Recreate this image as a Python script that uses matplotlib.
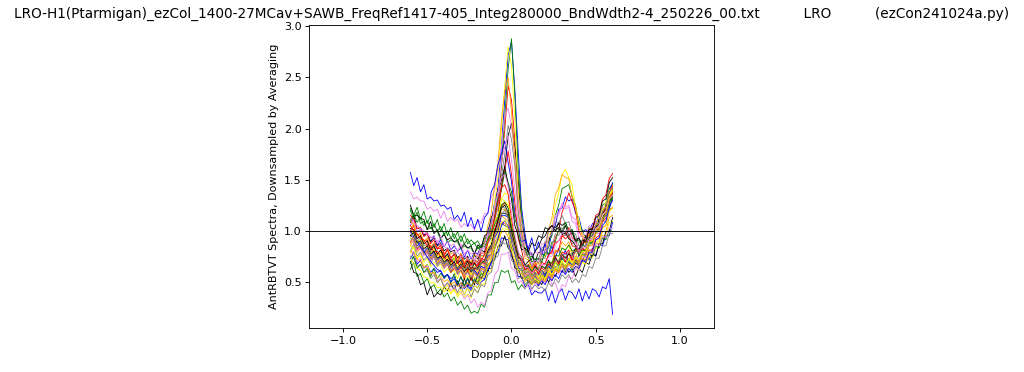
import matplotlib
matplotlib.use("Agg")
import matplotlib.pyplot as plt

# ------------------------------------------------------------
# data : Doppler axis (MHz) and the downsampled spectra
# ------------------------------------------------------------

doppler = [
    -0.60, -0.58, -0.56, -0.54, -0.52, -0.50, -0.48, -0.46, -0.44, -0.42, -0.40,
    -0.38, -0.36, -0.34, -0.32, -0.30, -0.28, -0.26, -0.24, -0.22, -0.20,
    -0.18, -0.16, -0.14, -0.12,
    -0.10, -0.08, -0.06, -0.04, -0.02, 0.00, 0.02, 0.04, 0.06, 0.08, 0.10,
    0.12, 0.14, 0.16, 0.18, 0.20, 0.22, 0.24, 0.26, 0.28,
    0.30, 0.32, 0.34, 0.36, 0.38, 0.40,
    0.42, 0.44, 0.46, 0.48, 0.50, 0.52, 0.54, 0.56, 0.58, 0.60,
]

spec01 = [1.05, 1.12, 0.99, 1.01, 0.96, 0.97, 0.89, 0.95, 0.86, 0.91, 0.84,
          0.90, 0.81, 0.85, 0.80, 0.83, 0.74, 0.81, 0.72, 0.79, 0.77,
          0.86, 0.88, 1.01, 1.08,
          1.28, 1.42, 1.83, 2.28, 2.72, 2.85, 2.38, 1.77, 1.22, 0.97, 0.79,
          0.78, 0.69, 0.73, 0.71, 0.81, 0.83, 0.98, 1.05, 1.21,
          1.22, 1.33, 1.29, 1.31, 1.17, 1.13,
          0.99, 1.01, 0.97, 1.07, 1.05, 1.16, 1.14, 1.26, 1.24, 1.38]
spec02 = [0.98, 1.05, 0.92, 0.95, 0.90, 0.91, 0.83, 0.87, 0.82, 0.83, 0.75,
          0.82, 0.73, 0.77, 0.74, 0.75, 0.67, 0.74, 0.66, 0.72, 0.69,
          0.78, 0.78, 0.91, 0.96,
          1.15, 1.28, 1.63, 1.98, 2.42, 2.28, 1.88, 1.33, 1.02, 0.80, 0.74,
          0.63, 0.70, 0.61, 0.69, 0.67, 0.77, 0.78, 0.93, 1.00,
          1.18, 1.26, 1.37, 1.28, 1.20, 0.99,
          0.94, 0.87, 0.97, 0.98, 1.09, 1.08, 1.21, 1.23, 1.38, 1.43]
spec03 = [1.20, 1.11, 1.18, 1.07, 1.09, 1.01, 1.03, 0.99, 0.99, 0.91, 0.98,
          0.88, 0.91, 0.89, 0.89, 0.82, 0.85, 0.83, 0.83, 0.77, 0.84,
          0.81, 0.89, 0.91, 1.04,
          1.13, 1.37, 1.63, 2.12, 2.58, 2.88, 2.32, 1.60, 1.17, 0.88, 0.80,
          0.69, 0.72, 0.68, 0.77, 0.75, 0.89, 0.95, 1.15, 1.25,
          1.41, 1.43, 1.45, 1.33, 1.25, 1.05,
          1.01, 0.92, 1.03, 1.01, 1.13, 1.12, 1.25, 1.27, 1.41, 1.46]
spec04 = [1.08, 1.15, 1.02, 1.03, 0.95, 0.98, 0.89, 0.93, 0.85, 0.88, 0.80,
          0.83, 0.79, 0.81, 0.73, 0.77, 0.72, 0.75, 0.67, 0.76, 0.72,
          0.81, 0.79, 0.91, 0.93,
          1.08, 1.15, 1.43, 1.62, 1.93, 2.05, 1.82, 1.48, 1.07, 0.93, 0.77,
          0.77, 0.69, 0.79, 0.77, 0.89, 0.89, 1.01, 0.99, 1.08,
          1.05, 1.08, 0.99, 1.01, 0.91, 0.93,
          0.85, 0.95, 0.93, 1.03, 1.02, 1.13, 1.13, 1.25, 1.27, 1.41]
spec05 = [0.92, 0.99, 0.87, 0.91, 0.82, 0.85, 0.77, 0.85, 0.75, 0.79, 0.71,
          0.75, 0.67, 0.75, 0.65, 0.69, 0.62, 0.70, 0.61, 0.69, 0.65,
          0.75, 0.75, 0.91, 0.99,
          1.28, 1.52, 1.98, 2.42, 2.80, 2.62, 2.08, 1.37, 1.03, 0.77, 0.73,
          0.61, 0.65, 0.62, 0.73, 0.75, 0.93, 1.02, 1.25, 1.37,
          1.55, 1.60, 1.52, 1.45, 1.22, 1.11,
          0.93, 0.95, 0.92, 1.03, 1.03, 1.15, 1.17, 1.29, 1.31, 1.45]
spec06 = [1.38, 1.31, 1.33, 1.29, 1.29, 1.21, 1.23, 1.19, 1.21, 1.12, 1.19,
          1.09, 1.13, 1.09, 1.11, 1.03, 1.07, 1.04, 1.06, 1.00, 1.11,
          1.07, 1.17, 1.17, 1.33,
          1.39, 1.63, 1.82, 2.13, 2.20, 2.02, 1.73, 1.27, 1.08, 0.87, 0.85,
          0.75, 0.79, 0.77, 0.87, 0.87, 1.01, 1.02, 1.15, 1.17,
          1.27, 1.23, 1.25, 1.13, 1.11, 0.97,
          0.98, 0.95, 1.05, 1.03, 1.13, 1.11, 1.23, 1.22, 1.33, 1.33]
spec07 = [1.00, 1.07, 0.95, 0.98, 0.89, 0.93, 0.84, 0.88, 0.83, 0.85, 0.77,
          0.81, 0.77, 0.79, 0.71, 0.78, 0.69, 0.73, 0.69, 0.77, 0.74,
          0.85, 0.87, 1.05, 1.17,
          1.45, 1.67, 2.08, 2.37, 2.50, 2.17, 1.68, 1.15, 0.93, 0.73, 0.71,
          0.61, 0.69, 0.67, 0.79, 0.82, 1.01, 1.12, 1.35, 1.42,
          1.55, 1.52, 1.51, 1.33, 1.23, 1.02,
          0.97, 0.87, 0.97, 0.95, 1.07, 1.07, 1.21, 1.22, 1.35, 1.37]
spec08 = [0.95, 1.01, 0.89, 0.93, 0.85, 0.87, 0.79, 0.87, 0.77, 0.81, 0.74,
          0.78, 0.70, 0.79, 0.68, 0.73, 0.65, 0.73, 0.63, 0.71, 0.67,
          0.76, 0.75, 0.88, 0.92,
          1.11, 1.22, 1.53, 1.75, 2.03, 1.89, 1.63, 1.19, 0.98, 0.77, 0.75,
          0.65, 0.73, 0.71, 0.83, 0.85, 0.99, 0.99, 1.09, 1.07,
          1.15, 1.07, 1.09, 0.97, 0.97, 0.85,
          0.87, 0.83, 0.93, 0.92, 1.03, 1.03, 1.15, 1.15, 1.28, 1.29]
spec09 = [1.57, 1.44, 1.52, 1.38, 1.45, 1.31, 1.33, 1.29, 1.30, 1.24, 1.25,
          1.21, 1.23, 1.11, 1.15, 1.09, 1.18, 1.04, 1.13, 1.02, 1.11,
          0.99, 1.13, 1.17, 1.38,
          1.45, 1.65, 1.75, 1.88, 1.67, 1.48, 1.17, 1.05, 0.89, 0.91, 0.82,
          0.93, 0.79, 0.89, 0.77, 0.87, 0.75, 0.85, 0.73, 0.83,
          0.71, 0.81, 0.69, 0.79, 0.67, 0.77,
          0.69, 0.79, 0.71, 0.83, 0.75, 0.87, 0.85, 0.95, 0.95, 1.08]
spec10 = [0.88, 0.95, 0.82, 0.85, 0.77, 0.81, 0.73, 0.77, 0.72, 0.75, 0.67,
          0.71, 0.67, 0.69, 0.61, 0.68, 0.59, 0.67, 0.57, 0.65, 0.61,
          0.69, 0.67, 0.79, 0.82,
          1.01, 1.12, 1.43, 1.59, 1.78, 1.55, 1.28, 0.92, 0.81, 0.65, 0.65,
          0.57, 0.61, 0.59, 0.63, 0.61, 0.69, 0.67, 0.79, 0.81,
          0.95, 0.95, 1.03, 0.93, 0.91, 0.79,
          0.83, 0.81, 0.91, 0.89, 1.01, 1.01, 1.15, 1.17, 1.33, 1.39]
spec11 = [1.22, 1.15, 1.23, 1.11, 1.19, 1.07, 1.15, 1.03, 1.11, 0.99, 1.07,
          0.95, 1.03, 0.92, 0.99, 0.89, 0.97, 0.87, 0.91, 0.87, 0.90,
          0.83, 0.93, 0.93, 1.08,
          1.12, 1.31, 1.39, 1.58, 1.47, 1.38, 1.12, 1.01, 0.85, 0.83, 0.73,
          0.75, 0.71, 0.73, 0.69, 0.79, 0.77, 0.89, 0.89, 1.01,
          0.99, 1.08, 0.99, 1.01, 0.89, 0.91,
          0.83, 0.93, 0.91, 1.01, 0.99, 1.11, 1.11, 1.23, 1.23, 1.37]
spec12 = [1.25, 1.15, 1.15, 1.12, 1.11, 1.01, 1.09, 0.97, 1.01, 0.93, 0.96,
          0.91, 0.93, 0.89, 0.91, 0.83, 0.87, 0.83, 0.85, 0.77, 0.86,
          0.83, 0.95, 0.97, 1.13,
          1.19, 1.41, 1.49, 1.63, 1.45, 1.31, 1.05, 0.95, 0.81, 0.83, 0.79,
          0.88, 0.85, 0.95, 0.93, 1.03, 1.01, 1.05, 1.03, 1.07,
          0.97, 1.05, 0.95, 0.98, 0.89, 0.93,
          0.85, 0.95, 0.92, 1.03, 1.01, 1.11, 1.09, 1.21, 1.21, 1.33]
spec13 = [0.78, 0.85, 0.73, 0.77, 0.69, 0.73, 0.65, 0.69, 0.65, 0.67, 0.59,
          0.63, 0.59, 0.61, 0.53, 0.61, 0.52, 0.56, 0.52, 0.55, 0.51,
          0.59, 0.57, 0.71, 0.75,
          0.95, 1.07, 1.31, 1.37, 1.35, 1.07, 0.91, 0.69, 0.65, 0.53, 0.55,
          0.47, 0.51, 0.49, 0.53, 0.51, 0.61, 0.59, 0.71, 0.71,
          0.83, 0.81, 0.85, 0.75, 0.75, 0.65,
          0.69, 0.67, 0.75, 0.73, 0.83, 0.83, 0.95, 0.95, 1.08, 1.09]
spec14 = [1.05, 1.11, 0.99, 1.01, 0.97, 0.98, 0.93, 0.95, 0.87, 0.95, 0.85,
          0.89, 0.85, 0.87, 0.79, 0.87, 0.77, 0.81, 0.77, 0.79, 0.75,
          0.83, 0.82, 0.95, 0.99,
          1.21, 1.37, 1.68, 1.82, 1.93, 1.69, 1.41, 1.05, 0.91, 0.75, 0.75,
          0.67, 0.71, 0.69, 0.79, 0.79, 0.93, 0.97, 1.13, 1.15,
          1.25, 1.21, 1.23, 1.09, 1.07, 0.93,
          0.95, 0.91, 1.01, 0.99, 1.09, 1.07, 1.18, 1.17, 1.29, 1.29]
spec15 = [0.85, 0.91, 0.79, 0.83, 0.75, 0.78, 0.73, 0.75, 0.67, 0.75, 0.65,
          0.69, 0.65, 0.67, 0.59, 0.67, 0.57, 0.61, 0.57, 0.60, 0.55,
          0.63, 0.61, 0.73, 0.77,
          0.95, 1.02, 1.23, 1.27, 1.25, 0.99, 0.87, 0.67, 0.65, 0.55, 0.58,
          0.51, 0.55, 0.52, 0.56, 0.53, 0.61, 0.59, 0.69, 0.67,
          0.77, 0.73, 0.77, 0.69, 0.71, 0.63,
          0.71, 0.69, 0.78, 0.77, 0.88, 0.87, 0.99, 0.99, 1.13, 1.15]
spec16 = [0.80, 0.87, 0.75, 0.79, 0.71, 0.75, 0.67, 0.75, 0.65, 0.69, 0.64,
          0.67, 0.59, 0.68, 0.57, 0.65, 0.55, 0.63, 0.53, 0.61, 0.57,
          0.65, 0.63, 0.77, 0.81,
          0.99, 1.07, 1.25, 1.22, 1.15, 0.92, 0.83, 0.67, 0.67, 0.57, 0.61,
          0.57, 0.65, 0.63, 0.73, 0.73, 0.85, 0.85, 0.97, 0.95,
          1.03, 0.95, 0.97, 0.87, 0.89, 0.79,
          0.83, 0.79, 0.89, 0.87, 0.98, 0.97, 1.09, 1.09, 1.21, 1.22]
spec17 = [0.72, 0.79, 0.67, 0.71, 0.63, 0.67, 0.59, 0.63, 0.59, 0.61, 0.53,
          0.57, 0.53, 0.55, 0.47, 0.55, 0.45, 0.53, 0.43, 0.51, 0.47,
          0.55, 0.52, 0.63, 0.63,
          0.77, 0.79, 0.93, 0.92, 0.91, 0.75, 0.69, 0.55, 0.55, 0.45, 0.47,
          0.37, 0.41, 0.39, 0.39, 0.43, 0.31, 0.41, 0.29, 0.39,
          0.43, 0.32, 0.41, 0.39, 0.33, 0.43,
          0.31, 0.41, 0.33, 0.43, 0.41, 0.35, 0.45, 0.43, 0.53, 0.18]
spec18 = [0.90, 0.89, 0.81, 0.83, 0.79, 0.79, 0.71, 0.75, 0.67, 0.71, 0.63,
          0.67, 0.59, 0.63, 0.59, 0.61, 0.53, 0.61, 0.51, 0.59, 0.55,
          0.63, 0.61, 0.73, 0.75,
          0.89, 0.93, 1.08, 1.07, 1.05, 0.87, 0.81, 0.65, 0.65, 0.55, 0.59,
          0.51, 0.59, 0.49, 0.58, 0.55, 0.63, 0.61, 0.71, 0.69,
          0.79, 0.77, 0.81, 0.71, 0.73, 0.65,
          0.73, 0.71, 0.81, 0.81, 0.93, 0.95, 1.09, 1.12, 1.29, 1.37]
spec19 = [0.62, 0.69, 0.55, 0.58, 0.49, 0.53, 0.44, 0.47, 0.39, 0.43, 0.35,
          0.39, 0.31, 0.35, 0.27, 0.31, 0.23, 0.27, 0.19, 0.21, 0.19,
          0.28, 0.25, 0.37, 0.37,
          0.49, 0.49, 0.61, 0.59, 0.61, 0.49, 0.51, 0.42, 0.47, 0.43, 0.51,
          0.47, 0.55, 0.52, 0.61, 0.57, 0.65, 0.61, 0.69, 0.65,
          0.73, 0.69, 0.73, 0.65, 0.69, 0.65,
          0.73, 0.69, 0.78, 0.75, 0.85, 0.83, 0.93, 0.91, 1.01, 0.99]
spec20 = [0.70, 0.59, 0.58, 0.47, 0.49, 0.37, 0.45, 0.35, 0.39, 0.37, 0.45,
          0.41, 0.49, 0.41, 0.51, 0.43, 0.53, 0.45, 0.55, 0.47, 0.57,
          0.53, 0.61, 0.59, 0.71,
          0.71, 0.85, 0.85, 0.95, 0.83, 0.79, 0.63, 0.63, 0.53, 0.57, 0.49,
          0.53, 0.49, 0.51, 0.47, 0.57, 0.49, 0.59, 0.55, 0.63,
          0.59, 0.67, 0.59, 0.63, 0.55, 0.63,
          0.59, 0.69, 0.67, 0.77, 0.75, 0.87, 0.87, 0.99, 0.99, 1.13]
spec21 = [0.85, 0.83, 0.73, 0.75, 0.65, 0.67, 0.57, 0.59, 0.49, 0.53, 0.43,
          0.47, 0.39, 0.43, 0.35, 0.39, 0.35, 0.38, 0.34, 0.43, 0.39,
          0.48, 0.47, 0.59, 0.61,
          0.77, 0.83, 1.01, 1.02, 1.01, 0.83, 0.77, 0.63, 0.63, 0.53, 0.57,
          0.49, 0.53, 0.49, 0.57, 0.53, 0.61, 0.57, 0.65, 0.61,
          0.69, 0.65, 0.69, 0.61, 0.65, 0.61,
          0.69, 0.67, 0.77, 0.77, 0.89, 0.89, 1.03, 1.05, 1.19, 1.22]
spec22 = [0.80, 0.79, 0.69, 0.73, 0.63, 0.65, 0.57, 0.59, 0.51, 0.53, 0.45,
          0.49, 0.41, 0.45, 0.37, 0.41, 0.33, 0.37, 0.29, 0.33, 0.25,
          0.30, 0.27, 0.39, 0.41,
          0.57, 0.61, 0.77, 0.77, 0.79, 0.63, 0.61, 0.49, 0.51, 0.43, 0.48,
          0.41, 0.49, 0.45, 0.53, 0.49, 0.57, 0.47, 0.49, 0.39,
          0.47, 0.45, 0.55, 0.53, 0.63, 0.61,
          0.71, 0.69, 0.79, 0.77, 0.87, 0.85, 0.95, 0.93, 1.03, 1.02]
spec23 = [1.10, 1.05, 0.95, 0.97, 0.87, 0.89, 0.81, 0.83, 0.75, 0.79, 0.71,
          0.75, 0.67, 0.71, 0.63, 0.70, 0.61, 0.65, 0.60, 0.63, 0.59,
          0.67, 0.65, 0.77, 0.79,
          0.95, 0.99, 1.15, 1.12, 1.09, 0.89, 0.81, 0.65, 0.65, 0.55, 0.59,
          0.52, 0.57, 0.53, 0.61, 0.59, 0.69, 0.69, 0.81, 0.79,
          0.89, 0.85, 0.89, 0.79, 0.79, 0.69,
          0.73, 0.71, 0.81, 0.79, 0.91, 0.91, 1.03, 1.05, 1.19, 1.23]
spec24 = [0.75, 0.73, 0.65, 0.67, 0.59, 0.61, 0.53, 0.57, 0.49, 0.53, 0.45,
          0.49, 0.45, 0.47, 0.39, 0.47, 0.37, 0.45, 0.35, 0.43, 0.39,
          0.47, 0.45, 0.57, 0.59,
          0.73, 0.75, 0.89, 0.87, 0.87, 0.71, 0.67, 0.53, 0.55, 0.47, 0.51,
          0.43, 0.47, 0.43, 0.45, 0.41, 0.49, 0.45, 0.53, 0.49,
          0.57, 0.53, 0.57, 0.49, 0.53, 0.49,
          0.57, 0.55, 0.65, 0.63, 0.73, 0.73, 0.85, 0.85, 0.97, 0.97]
spec25 = [0.95, 0.93, 0.85, 0.88, 0.79, 0.83, 0.75, 0.79, 0.71, 0.75, 0.67,
          0.71, 0.63, 0.71, 0.61, 0.65, 0.61, 0.63, 0.59, 0.61, 0.57,
          0.65, 0.63, 0.75, 0.77,
          0.93, 0.99, 1.15, 1.15, 1.13, 0.93, 0.85, 0.69, 0.69, 0.59, 0.63,
          0.55, 0.59, 0.57, 0.61, 0.55, 0.67, 0.59, 0.65, 0.63,
          0.67, 0.65, 0.69, 0.67, 0.71, 0.69,
          0.79, 0.77, 0.89, 0.89, 1.01, 1.03, 1.17, 1.21, 1.39, 1.47]
spec26 = [1.15, 1.11, 1.02, 1.03, 0.94, 0.97, 0.87, 0.91, 0.82, 0.86, 0.77,
          0.81, 0.73, 0.77, 0.69, 0.76, 0.67, 0.71, 0.66, 0.69, 0.65,
          0.73, 0.71, 0.83, 0.85,
          1.01, 1.07, 1.25, 1.27, 1.23, 1.01, 0.91, 0.73, 0.73, 0.63, 0.67,
          0.59, 0.67, 0.57, 0.65, 0.63, 0.67, 0.65, 0.75, 0.67,
          0.77, 0.69, 0.79, 0.71, 0.81, 0.79,
          0.89, 0.89, 1.01, 1.02, 1.15, 1.17, 1.31, 1.35, 1.51, 1.56]
spec27 = [0.68, 0.75, 0.63, 0.67, 0.59, 0.63, 0.55, 0.63, 0.53, 0.58, 0.54,
          0.57, 0.49, 0.58, 0.47, 0.55, 0.46, 0.54, 0.45, 0.53, 0.49,
          0.58, 0.55, 0.67, 0.69,
          0.85, 0.91, 1.07, 1.05, 1.03, 0.83, 0.77, 0.61, 0.61, 0.52, 0.56,
          0.49, 0.57, 0.47, 0.56, 0.53, 0.57, 0.55, 0.63, 0.59,
          0.67, 0.59, 0.69, 0.61, 0.71, 0.67,
          0.77, 0.75, 0.87, 0.87, 0.99, 0.99, 1.13, 1.15, 1.29, 1.32]
spec28 = [1.02, 1.01, 0.92, 0.95, 0.87, 0.90, 0.81, 0.85, 0.77, 0.81, 0.73,
          0.77, 0.69, 0.73, 0.68, 0.71, 0.63, 0.70, 0.61, 0.68, 0.63,
          0.71, 0.69, 0.81, 0.83,
          0.99, 1.03, 1.17, 1.17, 1.15, 0.95, 0.87, 0.71, 0.71, 0.61, 0.65,
          0.57, 0.65, 0.61, 0.65, 0.63, 0.71, 0.63, 0.73, 0.69,
          0.77, 0.73, 0.77, 0.75, 0.83, 0.81,
          0.91, 0.89, 1.01, 1.01, 1.13, 1.15, 1.29, 1.31, 1.47, 1.52]
spec29 = [1.00, 0.97, 0.89, 0.91, 0.83, 0.85, 0.77, 0.81, 0.73, 0.77, 0.69,
          0.73, 0.65, 0.73, 0.63, 0.67, 0.62, 0.65, 0.57, 0.65, 0.61,
          0.69, 0.69, 0.83, 0.89,
          1.08, 1.15, 1.31, 1.29, 1.25, 1.01, 0.89, 0.71, 0.69, 0.59, 0.63,
          0.55, 0.63, 0.53, 0.61, 0.59, 0.63, 0.61, 0.69, 0.61,
          0.71, 0.63, 0.73, 0.69, 0.73, 0.71,
          0.81, 0.81, 0.93, 0.93, 1.05, 1.07, 1.21, 1.23, 1.39, 1.43]
spec30 = [0.90, 0.89, 0.81, 0.83, 0.75, 0.79, 0.71, 0.75, 0.67, 0.71, 0.63,
          0.67, 0.63, 0.65, 0.57, 0.64, 0.55, 0.59, 0.55, 0.58, 0.54,
          0.63, 0.61, 0.73, 0.75,
          0.91, 0.95, 1.09, 1.07, 1.05, 0.87, 0.81, 0.65, 0.65, 0.55, 0.59,
          0.51, 0.55, 0.52, 0.53, 0.50, 0.59, 0.51, 0.61, 0.57,
          0.65, 0.57, 0.67, 0.63, 0.67, 0.65,
          0.75, 0.73, 0.85, 0.85, 0.97, 0.97, 1.11, 1.13, 1.27, 1.29]
spec31 = [0.88, 0.95, 0.83, 0.87, 0.77, 0.81, 0.73, 0.77, 0.69, 0.73, 0.65,
          0.69, 0.61, 0.65, 0.60, 0.63, 0.55, 0.63, 0.54, 0.59, 0.55,
          0.63, 0.61, 0.73, 0.77,
          0.95, 1.03, 1.21, 1.21, 1.17, 0.95, 0.85, 0.67, 0.67, 0.57, 0.61,
          0.53, 0.57, 0.53, 0.55, 0.52, 0.61, 0.53, 0.63, 0.59,
          0.67, 0.63, 0.67, 0.65, 0.73, 0.69,
          0.79, 0.77, 0.89, 0.89, 1.01, 1.03, 1.17, 1.19, 1.35, 1.39]
spec32 = [0.92, 0.91, 0.83, 0.85, 0.77, 0.80, 0.72, 0.76, 0.67, 0.71, 0.64,
          0.68, 0.60, 0.67, 0.57, 0.61, 0.57, 0.59, 0.54, 0.60, 0.53,
          0.61, 0.59, 0.71, 0.73,
          0.89, 0.93, 1.07, 1.05, 1.03, 0.85, 0.79, 0.63, 0.63, 0.53, 0.57,
          0.49, 0.57, 0.49, 0.58, 0.55, 0.59, 0.57, 0.65, 0.61,
          0.69, 0.61, 0.71, 0.67, 0.75, 0.71,
          0.81, 0.79, 0.91, 0.91, 1.03, 1.03, 1.15, 1.17, 1.31, 1.33]
spec33 = [1.00, 0.94, 0.90, 0.84, 0.80, 0.74, 0.70, 0.66, 0.62, 0.60, 0.55,
          0.57, 0.50, 0.53, 0.46, 0.49, 0.43, 0.47, 0.41, 0.46, 0.44,
          0.50, 0.52, 0.62, 0.68,
          0.82, 0.92, 1.05, 1.10, 1.04, 0.88, 0.76, 0.64, 0.60, 0.52, 0.54,
          0.48, 0.52, 0.46, 0.51, 0.47, 0.55, 0.51, 0.57, 0.53,
          0.61, 0.57, 0.63, 0.59, 0.65, 0.63,
          0.71, 0.69, 0.79, 0.79, 0.91, 0.93, 1.05, 1.09, 1.23, 1.30]
spec34 = [1.05, 1.00, 0.97, 0.92, 0.91, 0.85, 0.85, 0.79, 0.80, 0.74, 0.75,
          0.70, 0.72, 0.66, 0.69, 0.63, 0.66, 0.61, 0.64, 0.62, 0.67,
          0.70, 0.77, 0.88, 0.99,
          1.12, 1.28, 1.42, 1.45, 1.36, 1.12, 0.92, 0.76, 0.70, 0.62, 0.63,
          0.58, 0.62, 0.60, 0.66, 0.68, 0.76, 0.80, 0.88, 0.90,
          0.95, 0.92, 0.95, 0.85, 0.84, 0.76,
          0.82, 0.80, 0.89, 0.90, 1.01, 1.05, 1.17, 1.22, 1.37, 1.44]
spec35 = [1.10, 1.16, 1.08, 1.13, 1.05, 1.10, 1.02, 1.07, 0.99, 1.04, 0.96,
          1.00, 0.93, 0.97, 0.90, 0.95, 0.87, 0.92, 0.85, 0.88, 0.82,
          0.85, 0.84, 0.92, 0.96,
          1.06, 1.12, 1.25, 1.28, 1.22, 1.04, 0.92, 0.78, 0.74, 0.65, 0.66,
          0.60, 0.64, 0.60, 0.65, 0.63, 0.70, 0.68, 0.76, 0.75,
          0.83, 0.81, 0.86, 0.80, 0.82, 0.76,
          0.81, 0.80, 0.88, 0.89, 0.98, 1.01, 1.11, 1.15, 1.27, 1.31]
spec36 = [0.95, 0.98, 0.88, 0.90, 0.82, 0.85, 0.77, 0.80, 0.73, 0.75, 0.69,
          0.72, 0.66, 0.69, 0.63, 0.67, 0.60, 0.64, 0.60, 0.63, 0.62,
          0.68, 0.70, 0.80, 0.86,
          0.98, 1.10, 1.22, 1.25, 1.18, 1.00, 0.86, 0.74, 0.72, 0.66, 0.70,
          0.72, 0.80, 0.84, 0.92, 0.95, 1.02, 1.05, 1.00, 1.03,
          0.96, 0.98, 0.92, 0.90, 0.85, 0.82,
          0.86, 0.85, 0.93, 0.95, 1.04, 1.06, 1.17, 1.20, 1.33, 1.36]
spec37 = [0.72, 0.68, 0.63, 0.61, 0.55, 0.54, 0.49, 0.49, 0.44, 0.45, 0.40,
          0.43, 0.38, 0.42, 0.37, 0.42, 0.38, 0.43, 0.40, 0.46, 0.44,
          0.52, 0.55, 0.65, 0.72,
          0.86, 0.96, 1.08, 1.10, 1.02, 0.86, 0.74, 0.62, 0.60, 0.52, 0.55,
          0.49, 0.53, 0.50, 0.56, 0.53, 0.60, 0.57, 0.64, 0.62,
          0.70, 0.66, 0.72, 0.68, 0.74, 0.72,
          0.80, 0.79, 0.89, 0.90, 1.01, 1.04, 1.16, 1.19, 1.34, 1.40]
spec38 = [1.12, 1.08, 1.05, 1.02, 1.00, 0.96, 0.94, 0.91, 0.90, 0.86, 0.85,
          0.82, 0.82, 0.78, 0.79, 0.74, 0.76, 0.72, 0.74, 0.71, 0.76,
          0.80, 0.86, 0.97, 1.08,
          1.22, 1.38, 1.52, 1.55, 1.44, 1.18, 0.96, 0.80, 0.72, 0.64, 0.64,
          0.58, 0.63, 0.60, 0.67, 0.66, 0.74, 0.75, 0.86, 0.90,
          0.98, 1.00, 1.01, 0.92, 0.88, 0.80,
          0.84, 0.83, 0.91, 0.92, 1.02, 1.05, 1.15, 1.19, 1.31, 1.35]
spec39 = [0.80, 0.77, 0.72, 0.70, 0.64, 0.64, 0.58, 0.59, 0.54, 0.55, 0.50,
          0.52, 0.47, 0.50, 0.45, 0.49, 0.44, 0.49, 0.45, 0.50, 0.48,
          0.55, 0.56, 0.65, 0.71,
          0.82, 0.90, 0.98, 1.00, 0.94, 0.80, 0.70, 0.59, 0.58, 0.50, 0.53,
          0.47, 0.51, 0.48, 0.53, 0.50, 0.57, 0.55, 0.61, 0.59,
          0.66, 0.63, 0.68, 0.64, 0.70, 0.68,
          0.76, 0.75, 0.85, 0.86, 0.97, 1.00, 1.12, 1.16, 1.31, 1.38]
spec40 = [0.98, 0.95, 0.90, 0.88, 0.83, 0.82, 0.77, 0.77, 0.72, 0.73, 0.68,
          0.70, 0.65, 0.68, 0.63, 0.66, 0.61, 0.65, 0.61, 0.64, 0.62,
          0.68, 0.69, 0.78, 0.84,
          0.96, 1.06, 1.16, 1.20, 1.12, 0.95, 0.82, 0.70, 0.66, 0.58, 0.60,
          0.55, 0.59, 0.56, 0.61, 0.59, 0.66, 0.64, 0.71, 0.70,
          0.77, 0.74, 0.79, 0.75, 0.80, 0.78,
          0.86, 0.85, 0.94, 0.95, 1.05, 1.08, 1.19, 1.23, 1.37, 1.42]

spectra = [
    spec01, spec02, spec03, spec04, spec05, spec06, spec07, spec08,
    spec09, spec10, spec11, spec12, spec13, spec14, spec15, spec16,
    spec17, spec18, spec19, spec20, spec21, spec22, spec23, spec24,
    spec25, spec26, spec27, spec28, spec29, spec30, spec31, spec32,
    spec33, spec34, spec35, spec36, spec37, spec38, spec39, spec40,
]

# ezCon style colour cycle
trace_colors = ["blue", "red", "green", "black", "yellow", "violet", "orange", "gray"]

title_text = ("LRO-H1(Ptarmigan)_ezCol_1400-27MCav+SAWB_FreqRef1417-405_Integ280000_BndWdth2-4_250226_00.txt"
              "          LRO          (ezCon241024a.py)")

bad = [i + 1 for i, s in enumerate(spectra) if len(s) != len(doppler)]
if bad:
    raise ValueError(f"length mismatch in spectra {bad}")

# ------------------------------------------------------------
# plot  (drawn at 80 dpi, like the original screen-sized figure)
# ------------------------------------------------------------

fig = plt.figure(figsize=(12.8, 4.65), dpi=80)
ax = fig.add_axes([0.302, 0.118, 0.395, 0.815])

for i, spec in enumerate(spectra):
    ax.plot(
        doppler,
        spec,
        color=trace_colors[i % len(trace_colors)],
        linewidth=0.75
    )

ax.axhline(y=1.0, color="black", linewidth=0.8)

ax.set_xlim(-1.2, 1.2)
ax.set_title(title_text, fontsize=12.3)
ax.set_xlabel("Doppler (MHz)")
ax.set_ylabel("AntRBTVT Spectra, Downsampled by Averaging")

fig.savefig("out.png", dpi=80)
